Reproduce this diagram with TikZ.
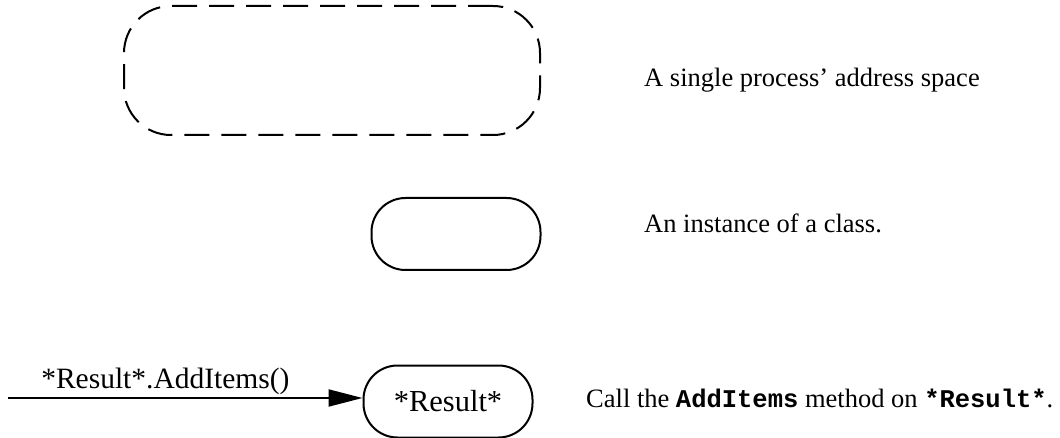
\documentclass[tikz,border=0pt]{standalone}
\usepackage{fontspec}
\setmainfont{Liberation Serif}
\setmonofont{Liberation Mono}
\usetikzlibrary{arrows.meta,positioning}

% method names set in bold typewriter
\newcommand{\mname}[1]{{\fontsize{25.5}{30}\selectfont\ttfamily\bfseries #1}}

\begin{document}
\begin{tikzpicture}[
    x=1pt, y=-1pt,
    every node/.style={font=\fontsize{26.5}{30}\selectfont},
    space/.style={draw,line width=2pt,dash pattern=on 25pt off 12pt,
                  rounded corners=47pt,minimum width=416pt,minimum height=129pt},
    obj/.style={draw,line width=2pt,rounded corners=34pt,
                minimum width=169pt,minimum height=72pt,
                font=\fontsize{30.5}{34}\selectfont},
    note/.style={anchor=base west,inner sep=0pt},
    msg/.style={font=\fontsize{29.5}{34}\selectfont,inner sep=0pt},
    call/.style={-{Triangle[length=34pt,width=17pt]},line width=2pt}
]
\useasboundingbox (0,0) rectangle (1060,438);

% Process address space
\node[space] (proc) at (332,70.5) {};
\node[note] (procnote) at (644,87) {A single process' address space};

% Class instance
\node[obj] (inst) at (456,234) {};
\node[note] (instnote) at (644,233) {An instance of a class.};

% Method call on an instance
\node[obj] (res) at (448,401.5) {*Result*};
\coordinate (caller) at (8,398);
\draw[call] (caller) -- (caller -| res.west)
    node[msg,pos=0.444,above=2pt] {*Result*.AddItems()};
\node[note] (callnote) at (586,407)
    {Call the \mname{AddItems} method on \mname{*Result*}.};

\end{tikzpicture}
\end{document}
